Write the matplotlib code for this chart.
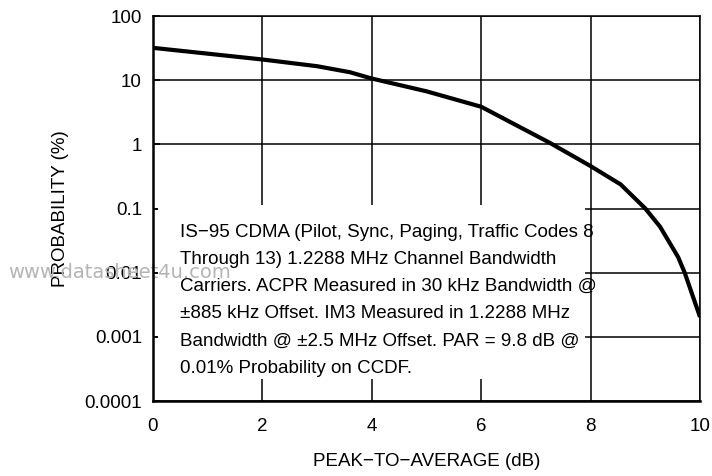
import matplotlib
matplotlib.use("Agg")
import matplotlib.pyplot as plt
from matplotlib.patches import Rectangle

FONT = ['Liberation Sans', 'DejaVu Sans']
plt.rcParams['font.family'] = FONT

# Data
par_db = [0, 2, 3, 3.6, 4, 5, 6, 7.25, 8, 8.55, 9.0, 9.27, 9.6, 9.72, 10]
prob_pct = [31.9, 21, 16.5, 13.3, 10.6, 6.7, 3.85, 1.06, 0.458, 0.237, 0.10, 0.052, 0.0175, 0.010, 0.00204]

x_ticks = [0, 2, 4, 6, 8, 10]
y_ticks = [0.0001, 0.001, 0.01, 0.1, 1, 10, 100]
y_tick_labels = ["0.0001", "0.001", "0.01", "0.1", "1", "10", "100"]

note = ("IS\u221295 CDMA (Pilot, Sync, Paging, Traffic Codes 8\n"
        "Through 13) 1.2288 MHz Channel Bandwidth\n"
        "Carriers. ACPR Measured in 30 kHz Bandwidth @\n"
        "\u00b1885 kHz Offset. IM3 Measured in 1.2288 MHz\n"
        "Bandwidth @ \u00b12.5 MHz Offset. PAR = 9.8 dB @\n"
        "0.01% Probability on CCDF.")

fig = plt.figure(figsize=(7.12, 4.76), dpi=100)
ax = fig.add_axes([153/712, 75/476, 547/712, 385/476])
ax.set_yscale('log')
ax.set_xlim(0, 10)
ax.set_ylim(1e-4, 100)

for yv in y_ticks:
    ax.axhline(yv, color='black', lw=1.1, zorder=1)
for xv in x_ticks:
    ax.axvline(xv, color='black', lw=1.1, zorder=1)

ax.add_patch(Rectangle((0.009, 0.057), 0.781, 0.452, transform=ax.transAxes,
                       facecolor='white', edgecolor='none', zorder=2))

# watermark: above the white box, beneath the note text
ax.text(8/712, 1 - 273/476, "www.datasheet4u.com", color='#b4b4b4', fontsize=14,
        va='center', ha='left', family=['DejaVu Sans'], transform=fig.transFigure,
        clip_on=False, zorder=2.5)

ax.text(27/547, (401-224)/385, note, transform=ax.transAxes, fontsize=13.5,
        va='top', ha='left', linespacing=1.78, zorder=3)

ax.plot(par_db, prob_pct, color='black', lw=3.0, zorder=4, solid_capstyle='butt')

ax.set_xticks(x_ticks)
ax.set_xticklabels([str(v) for v in x_ticks])
ax.yaxis.set_major_locator(matplotlib.ticker.FixedLocator(y_ticks))
ax.yaxis.set_minor_locator(matplotlib.ticker.NullLocator())
ax.set_yticklabels(y_tick_labels)
ax.tick_params(axis='y', direction='in', length=5, width=1.1, pad=8, labelsize=13.5)
ax.tick_params(axis='x', direction='in', length=0, pad=12, labelsize=13.5)

for s in ['top', 'right']:
    ax.spines[s].set_linewidth(1.1)
for s in ['left', 'bottom']:
    ax.spines[s].set_linewidth(1.8)

ax.set_xlabel("PEAK\u2212TO\u2212AVERAGE (dB)", fontsize=13.5, labelpad=13)
ax.set_ylabel("PROBABILITY (%)", fontsize=13.5, labelpad=11)

fig.savefig("out.png", dpi=100)
